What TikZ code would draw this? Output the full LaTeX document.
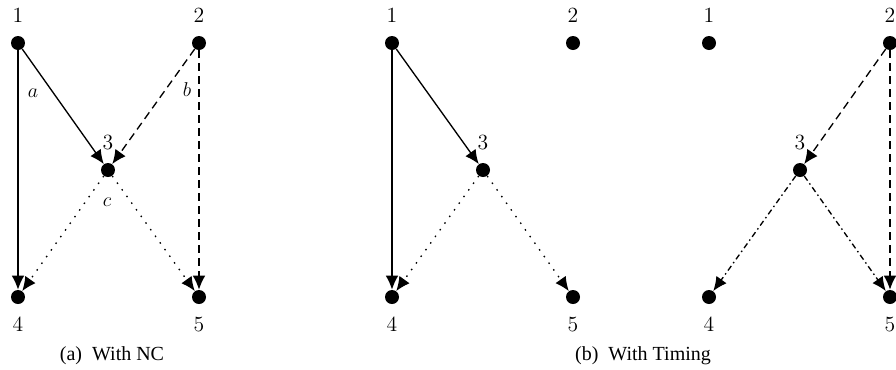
\documentclass[tikz,border=0pt]{standalone}
\usepackage{fontspec}
\newfontfamily\capfont{Liberation Serif}
\usetikzlibrary{arrows.meta}

\tikzset{
    vertex/.style={circle, fill=black, inner sep=0pt, minimum size=8.4pt},
    flow/.style={line width=0.8pt, -{Latex[length=8.4pt,width=7.6pt]}},
    flowsolid/.style={flow},
    flowdash/.style={flow, dash pattern=on 4.8pt off 3pt},
    flowdot/.style={flow, dash pattern=on 0.9pt off 4pt},
    flowdashdot/.style={flow, dash pattern=on 3.4pt off 2pt on 0.9pt off 2pt},
    caption/.style={font=\capfont\fontsize{12}{14}\selectfont},
    every node/.style={font=\fontsize{13}{15}\selectfont},
    every label/.style={label distance=6pt, inner sep=1.5pt}
}

\begin{document}
\begin{tikzpicture}[x=0.6pt, y=0.6pt]

\useasboundingbox (0,0) rectangle (896,369);

% (a) With NC
\node[vertex, label=above:1] (p1) at (18,326) {};
\node[vertex, label=above:2] (p2) at (199,326) {};
\node[vertex, label=above:3] (p3) at (108,199) {};
\node[vertex, label=below:4] (p4) at (18,72) {};
\node[vertex, label=below:5] (p5) at (199,72) {};

\draw[flowsolid] (p1) -- (p4);
\draw[flowsolid] (p1) -- (p3);
\draw[flowdash] (p2) -- (p3);
\draw[flowdash] (p2) -- (p5);
\draw[flowdot] (p3) -- (p4);
\draw[flowdot] (p3) -- (p5);

\node (la) at (33,276) {$a$};
\node (lb) at (187,279) {$b$};
\node (lc) at (107,167) {$c$};

\node[caption] (capa) at (112,13) {(a)~ With NC};

% (b) With Timing, first part
\node[vertex, label=above:1] (q1) at (392,326) {};
\node[vertex, label=above:2] (q2) at (573,326) {};
\node[vertex, label=above:3] (q3) at (483,199) {};
\node[vertex, label=below:4] (q4) at (392,72) {};
\node[vertex, label=below:5] (q5) at (573,72) {};

\draw[flowsolid] (q1) -- (q4);
\draw[flowsolid] (q1) -- (q3);
\draw[flowdot] (q3) -- (q4);
\draw[flowdot] (q3) -- (q5);

% (b) With Timing, second part
\node[vertex, label=above:1] (r1) at (709,326) {};
\node[vertex, label=above:2] (r2) at (890,326) {};
\node[vertex, label=above:3] (r3) at (800,199) {};
\node[vertex, label=below:4] (r4) at (709,72) {};
\node[vertex, label=below:5] (r5) at (890,72) {};

\draw[flowdash] (r2) -- (r3);
\draw[flowdash] (r2) -- (r5);
\draw[flowdashdot] (r3) -- (r4);
\draw[flowdashdot] (r3) -- (r5);

\node[caption] (capb) at (643,13) {(b)~ With Timing};

\end{tikzpicture}
\end{document}
